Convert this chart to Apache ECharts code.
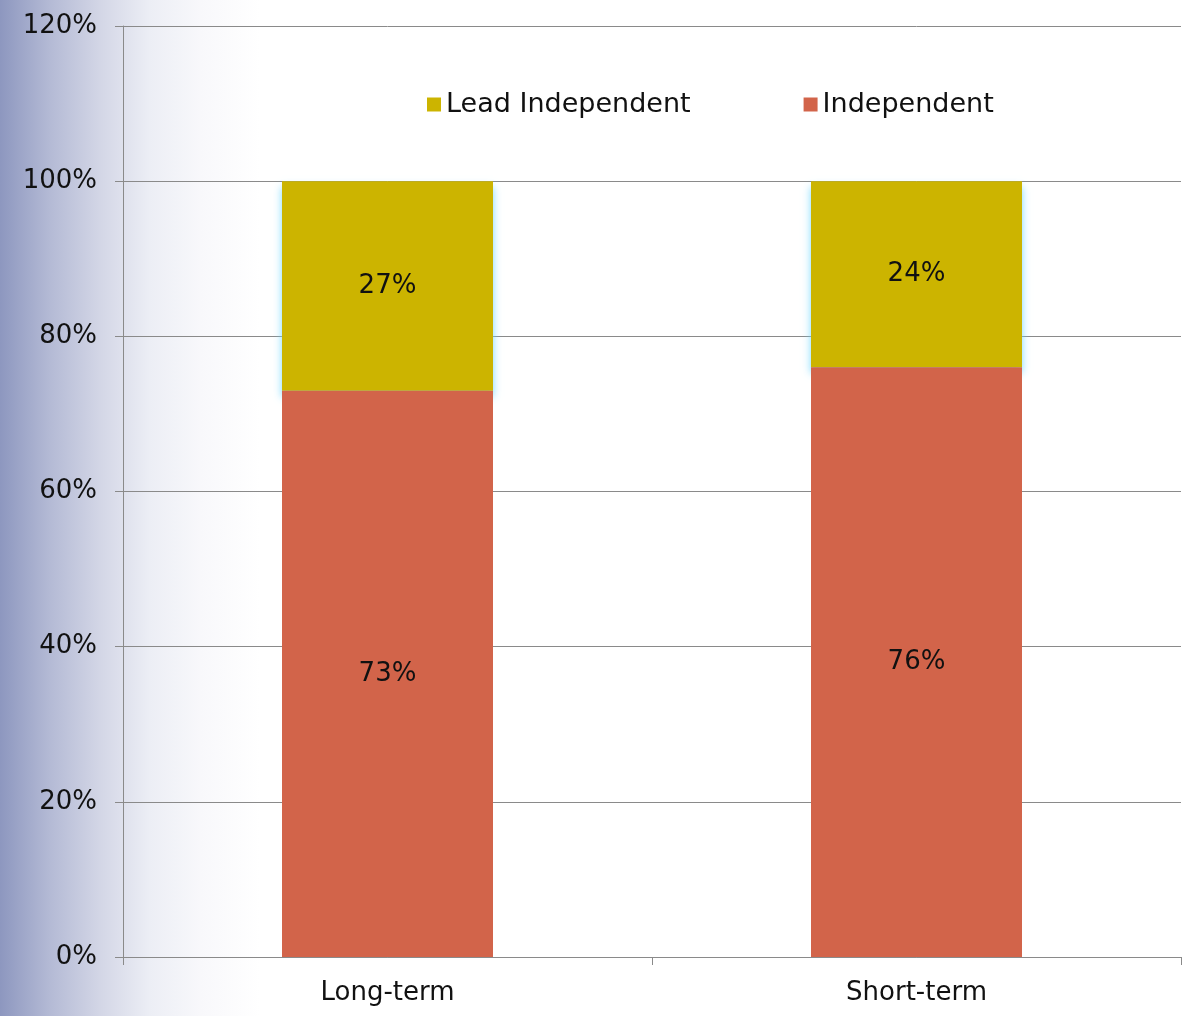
<!DOCTYPE html>
<html>
<head>
<meta charset="utf-8">
<title>Independent vs Lead Independent</title>
<script src="https://cdn.jsdelivr.net/npm/echarts@6/dist/echarts.min.js"></script>
<style>
  html, body {
    margin: 0;
    padding: 0;
  }
  body {
    background: linear-gradient(to right, #8d97bf 0px, #b4bad5 50px, #d3d6e6 100px, #eceef5 150px, #f8f8fb 200px, #ffffff 260px);
  }
  #chart {
    width: 1182px;
    height: 1016px;
  }
</style>
</head>
<body>
<div id="chart"></div>
<script>
const categories = ['Long-term', 'Short-term']
const independent = [73, 76]
const leadIndependent = [27, 24]
const yTicks = { min: 0, max: 120, interval: 20 }

const chart = echarts.init(document.getElementById('chart'))

const font = 'DejaVu Sans, Verdana, sans-serif'

const labelStyle = {
  show: true,
  position: 'inside',
  formatter: '{c}%',
  fontSize: 26,
  fontFamily: font,
  color: '#111'
}

const option = {
  backgroundColor: 'transparent',
  textStyle: { fontFamily: font },
  grid: {
    left: 123,
    right: 1,
    top: 26,
    bottom: 59
  },
  legend: {
    data: ['Lead Independent', 'Independent'],
    left: 427,
    top: 91,
    padding: 0,
    itemWidth: 14,
    itemHeight: 14,
    itemGap: 113,
    icon: 'rect',
    textStyle: {
      fontSize: 27,
      fontFamily: font,
      color: '#111'
    }
  },
  xAxis: {
    type: 'category',
    data: categories,
    axisLine: { lineStyle: { color: '#8a8a8a', width: 1 } },
    axisTick: { show: true, length: 8, lineStyle: { color: '#8a8a8a' } },
    axisLabel: {
      fontSize: 26,
      fontFamily: font,
      color: '#111',
      margin: 23
    }
  },
  yAxis: {
    type: 'value',
    min: yTicks.min,
    max: yTicks.max,
    interval: yTicks.interval,
    axisLine: { show: true, lineStyle: { color: '#8a8a8a', width: 1 } },
    axisTick: { show: true, length: 8, lineStyle: { color: '#8a8a8a' } },
    axisLabel: {
      formatter: '{value}%',
      fontSize: 26,
      fontFamily: font,
      color: '#111',
      margin: 26
    },
    splitLine: { lineStyle: { color: '#8a8a8a', width: 1 } }
  },
  // yellow series listed first so the red one draws over its glow
  series: [
    {
      name: 'Lead Independent',
      type: 'bar',
      stack: 'total',
      stackOrder: 'seriesDesc',
      barWidth: 211,
      data: leadIndependent,
      itemStyle: {
        color: '#ccb400',
        shadowColor: 'rgba(110, 215, 255, 0.9)',
        shadowBlur: 8,
        shadowOffsetY: 6
      },
      label: labelStyle
    },
    {
      name: 'Independent',
      type: 'bar',
      stack: 'total',
      stackOrder: 'seriesDesc',
      barWidth: 211,
      data: independent,
      itemStyle: { color: '#d2644a' },
      label: labelStyle
    }
  ]
}

chart.setOption(option)
</script>
</body>
</html>
